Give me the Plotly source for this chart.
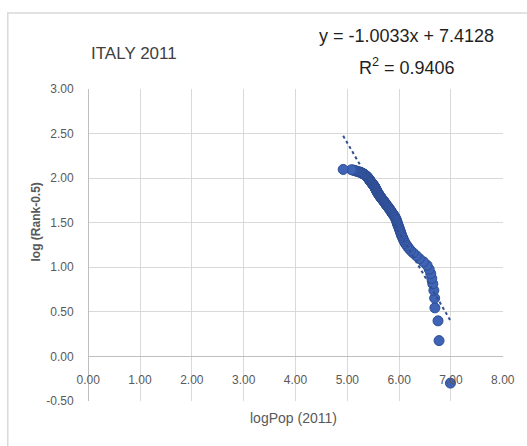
import numpy as np
import plotly.graph_objects as go

# log10 of city population, ordered by rank (1 = largest)
log_pop = [
    6.99, 6.77, 6.75, 6.69, 6.685, 6.67, 6.65, 6.63, 6.61, 6.58,
    6.54, 6.47, 6.39, 6.33, 6.27, 6.22, 6.18, 6.15, 6.12, 6.10,
    6.08, 6.07, 6.05, 6.04, 6.03, 6.02, 6.01, 6.00, 5.99, 5.98,
    5.97, 5.965, 5.955, 5.95, 5.94, 5.93, 5.92, 5.91, 5.895, 5.88,
    5.865, 5.855, 5.845, 5.835, 5.82, 5.81, 5.80, 5.79, 5.775, 5.76,
    5.75, 5.74, 5.73, 5.72, 5.71, 5.70, 5.69, 5.68, 5.67, 5.66,
    5.65, 5.64, 5.635, 5.625, 5.615, 5.61, 5.60, 5.595, 5.59, 5.58,
    5.575, 5.57, 5.565, 5.56, 5.555, 5.55, 5.545, 5.54, 5.535, 5.53,
    5.525, 5.52, 5.51, 5.505, 5.50, 5.49, 5.485, 5.48, 5.47, 5.465,
    5.46, 5.45, 5.445, 5.44, 5.435, 5.43, 5.425, 5.42, 5.415, 5.41,
    5.40, 5.395, 5.39, 5.38, 5.375, 5.37, 5.36, 5.35, 5.345, 5.335,
    5.325, 5.315, 5.305, 5.29, 5.28, 5.265, 5.25, 5.23, 5.21, 5.19,
    5.17, 5.15, 5.13, 5.11, 5.08, 4.92,
]
rank = np.arange(1, len(log_pop) + 1)
log_rank = np.log10(rank - 0.5)

# fitted line as reported on the chart
slope = -1.0033
intercept = 7.4128
r_squared = 0.9406

x_ticks = [0, 1, 2, 3, 4, 5, 6, 7, 8]
y_ticks = [-0.5, 0, 0.5, 1.0, 1.5, 2.0, 2.5, 3.0]

FONT = "Liberation Sans, Arial, sans-serif"
TICK_COLOR = "#595959"
GRID = "#D9D9D9"

fit_x = np.array([min(log_pop), max(log_pop)])
fit_y = slope * fit_x + intercept

fig = go.Figure()
fig.add_trace(go.Scatter(
    x=log_pop, y=log_rank, mode="markers",
    marker=dict(size=10, color="#3F64B5", line=dict(color="#2E4D94", width=1)),
    showlegend=False, hoverinfo="x+y",
))
fig.add_trace(go.Scatter(
    x=fit_x, y=fit_y, mode="lines",
    line=dict(color="#2F4F8F", width=2, dash="dot"),
    showlegend=False, hoverinfo="skip",
))

ML, MR, MT, MB = 88, 20, 89, 45
W, H = 527, 446
PW, PH = W - ML - MR, H - MT - MB


def px_x(px):
    return (px - ML) / PW


def px_y(py):
    return (H - MB - py) / PH


def fmt(v):
    return f"{v:.2f}"


fig.update_layout(
    width=W, height=H,
    margin=dict(l=ML, r=MR, t=MT, b=MB, pad=0),
    paper_bgcolor="white", plot_bgcolor="white",
    font=dict(family=FONT, color=TICK_COLOR),
    xaxis=dict(
        range=[-0.004, 8.004], tickvals=x_ticks, ticktext=[fmt(v) for v in x_ticks],
        showgrid=True, gridcolor=GRID, gridwidth=1,
        zeroline=True, zerolinecolor="#BFBFBF", zerolinewidth=1,
        showline=False,
        anchor="free", position=0.5 / 3.5,
        ticks="outside", ticklen=12, tickcolor="rgba(0,0,0,0)",
        tickfont=dict(size=12, color=TICK_COLOR, family=FONT),
    ),
    yaxis=dict(
        range=[-0.502, 3.002], tickvals=y_ticks, ticktext=[fmt(v) for v in y_ticks],
        showgrid=True, gridcolor=GRID, gridwidth=1,
        zeroline=True, zerolinecolor="#BFBFBF", zerolinewidth=1,
        showline=False,
        ticks="outside", ticklen=11, tickcolor="rgba(0,0,0,0)",
        tickfont=dict(size=12, color=TICK_COLOR, family=FONT),
    ),
    shapes=[
        dict(type="rect", xref="paper", yref="paper",
             x0=px_x(7), x1=px_x(540), y0=px_y(460), y1=px_y(13),
             line=dict(color="#D9D9D9", width=1.5), fillcolor="rgba(0,0,0,0)",
             layer="below"),
    ],
    annotations=[
        dict(text="ITALY 2011", xref="paper", yref="paper",
             x=px_x(89), y=px_y(54), xanchor="left", yanchor="middle",
             showarrow=False, font=dict(size=17, color="#404040", family=FONT)),
        dict(text=f"y = {slope:.4f}x + {intercept:.4f}", xref="paper", yref="paper",
             x=px_x(410), y=px_y(36), xanchor="center", yanchor="middle",
             showarrow=False, font=dict(size=18, color="#1F1F1F", family=FONT)),
        dict(text=f"R<sup>2</sup> = {r_squared:.4f}", xref="paper", yref="paper",
             x=px_x(410), y=px_y(66), xanchor="center", yanchor="middle",
             showarrow=False, font=dict(size=18, color="#1F1F1F", family=FONT)),
        dict(text="logPop (2011)", xref="paper", yref="paper",
             x=px_x(295), y=px_y(418), xanchor="center", yanchor="middle",
             showarrow=False, font=dict(size=14, color=TICK_COLOR, family=FONT)),
        dict(text="<b>log (Rank-0.5)</b>", xref="paper", yref="paper",
             x=px_x(35), y=px_y(222), xanchor="center", yanchor="middle",
             textangle=-90, showarrow=False,
             font=dict(size=12, color=TICK_COLOR, family=FONT)),
    ],
)

fig.write_html("out.html")
